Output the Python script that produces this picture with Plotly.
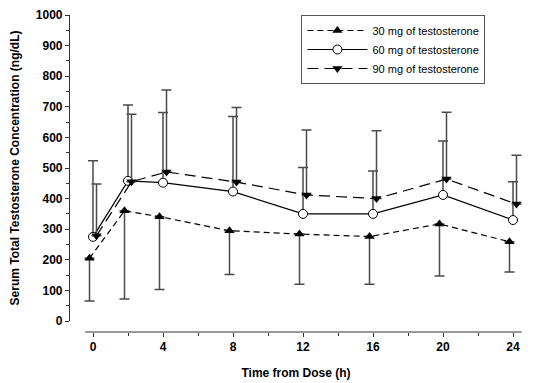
import plotly.graph_objects as go

# ---- data ----
time_h = [0, 2, 4, 8, 12, 16, 20, 24]
mean_30 = [205, 360, 341, 295, 284, 276, 317, 259]
sd_30 = [140, 288, 238, 143, 164, 156, 170, 99]      # drawn downward
mean_60 = [275, 458, 452, 423, 350, 350, 412, 330]
sd_60 = [249, 248, 229, 245, 152, 140, 176, 125]     # drawn upward
mean_90 = [279, 455, 487, 454, 412, 400, 464, 382]
sd_90 = [169, 221, 268, 244, 212, 222, 218, 160]     # drawn upward
names = ["30 mg of testosterone", "60 mg of testosterone", "90 mg of testosterone"]
x_ticks = [0, 4, 8, 12, 16, 20, 24]
y_ticks = [0, 100, 200, 300, 400, 500, 600, 700, 800, 900, 1000]

OFF = 0.2
FONT = "Arial, Liberation Sans, sans-serif"
ERR_C = "#4a4a4a"

fig = go.Figure()
fig.add_trace(go.Scatter(
    x=[t - OFF for t in time_h], y=mean_30, name=names[0], mode="lines+markers",
    line=dict(color="black", width=1.2, dash="6px,4px"),
    marker=dict(symbol="triangle-up", size=9, color="black"),
    error_y=dict(type="data", symmetric=False, array=[0]*len(sd_30), arrayminus=sd_30,
                 color=ERR_C, thickness=1.5, width=5)))
fig.add_trace(go.Scatter(
    x=time_h, y=mean_60, name=names[1], mode="lines+markers",
    line=dict(color="black", width=1.2),
    marker=dict(symbol="circle", size=9, color="white", line=dict(color="black", width=1)),
    error_y=dict(type="data", symmetric=False, array=sd_60, arrayminus=[0]*len(sd_60),
                 color=ERR_C, thickness=1.5, width=5)))
fig.add_trace(go.Scatter(
    x=[t + OFF for t in time_h], y=mean_90, name=names[2], mode="lines+markers",
    line=dict(color="black", width=1.2, dash="11px,6px"),
    marker=dict(symbol="triangle-down", size=9, color="black"),
    error_y=dict(type="data", symmetric=False, array=sd_90, arrayminus=[0]*len(sd_90),
                 color=ERR_C, thickness=1.5, width=5)))

# x axis line (offset from y axis, SigmaPlot style)
fig.add_shape(type="line", xref="x", yref="paper", x0=-0.45, x1=24.5, y0=0, y1=0,
              line=dict(color="#333", width=1.2))

# page body has an 8px default margin, so the figure is 8px smaller and margins shifted
fig.update_layout(
    width=543, height=375,
    margin=dict(l=62, r=29, t=7, b=51, autoexpand=False),
    paper_bgcolor="white", plot_bgcolor="white",
    font=dict(family=FONT, color="black"),
    showlegend=True,
    legend=dict(x=0.512, y=1.0, xanchor="left", yanchor="top",
                bordercolor="#555", borderwidth=1, bgcolor="white",
                font=dict(size=11, family=FONT), tracegroupgap=0, itemwidth=60),
    xaxis=dict(range=[-1.314, 24.514], tickvals=x_ticks, ticks="outside", ticklen=4,
               tickcolor="#333", showline=False, showgrid=False, zeroline=False,
               anchor="free", position=0, automargin=False,
               tickfont=dict(size=12, weight="bold"),
               minor=dict(dtick=2, tick0=0, ticks="outside", ticklen=3, tickcolor="#333"),
               title=dict(text="Time from Dose (h)", font=dict(size=12, weight="bold"), standoff=15)),
    yaxis=dict(range=[0, 1000], domain=[0.0347, 1], tickvals=y_ticks, ticks="outside", ticklen=4,
               tickcolor="#333", showline=True, linecolor="#333", linewidth=1.2,
               showgrid=False, zeroline=False, automargin=False,
               tickfont=dict(size=12, weight="bold"),
               minor=dict(dtick=50, tick0=0, ticks="outside", ticklen=3, tickcolor="#333"),
               title=dict(text="Serum Total Testosterone Concentration (ng/dL)",
                          font=dict(size=12, weight="bold"), standoff=14)),
)

fig.write_html("out.html")
